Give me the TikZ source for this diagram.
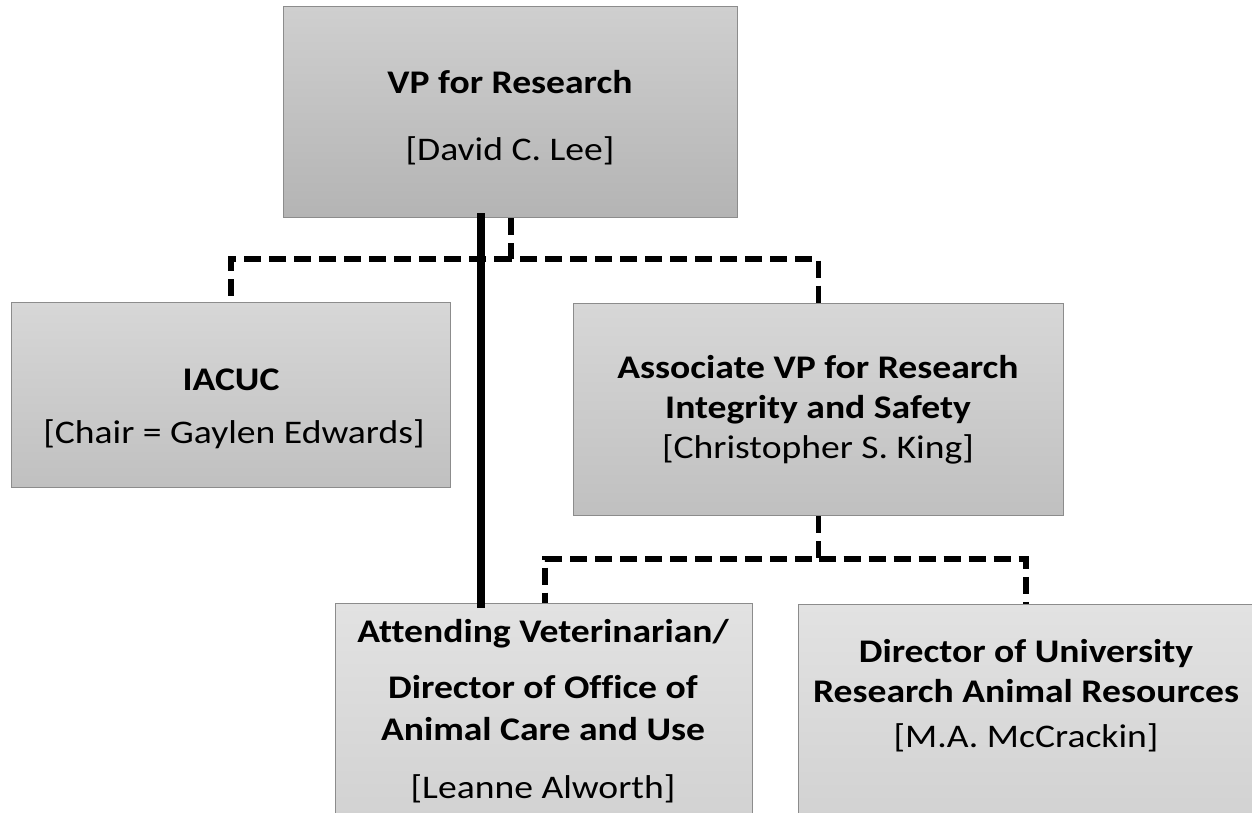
\documentclass[tikz,border=0pt]{standalone}
\usepackage{fontspec}
\setmainfont[Ligatures=NoCommon]{Carlito}
\definecolor{edgegray}{RGB}{140,140,140}
\definecolor{vptop}{RGB}{207,207,207}
\definecolor{vpbot}{RGB}{180,180,180}
\definecolor{midtop}{RGB}{215,215,215}
\definecolor{midbot}{RGB}{192,192,192}
\definecolor{lowtop}{RGB}{226,226,226}
\definecolor{lowbot}{RGB}{208,208,208}
\newcommand\widetxt[1]{\scalebox{1.14}[1]{#1}}
\begin{document}
\begin{tikzpicture}[x=1pt,y=-1pt,
  box/.style={draw=edgegray, line width=1.2pt, anchor=north west, inner sep=0pt, rectangle},
  hd/.style={anchor=base, inner sep=0pt, font=\fontsize{33}{40}\selectfont\bfseries},
  nm/.style={anchor=base, inner sep=0pt, font=\fontsize{33}{40}\selectfont},
  solidline/.style={line width=8pt},
  dashline/.style={line width=5.5pt, dash pattern=on 17pt off 8pt}]
\fill[white] (0,0) rectangle (1252,812);
\useasboundingbox (0,0) rectangle (1252,812);
% boxes
\node[box, minimum width=454pt, minimum height=211pt, top color=vptop, bottom color=vpbot] (vp) at (283,6) {};
\node[box, minimum width=439pt, minimum height=185pt, top color=midtop, bottom color=midbot] (iacuc) at (11,302) {};
\node[box, minimum width=490pt, minimum height=212pt, top color=midtop, bottom color=midbot] (assoc) at (573,303) {};
\node[box, minimum width=417pt, minimum height=240pt, top color=lowtop, bottom color=lowbot] (att) at (335,603) {};
\node[box, minimum width=470pt, minimum height=240pt, top color=lowtop, bottom color=lowbot] (dir) at (798,604) {};
% texts
\node[hd] (t1) at (510,93) {\widetxt{VP for Research}};
\node[nm] (t2) at (510,160) {\widetxt{[David C. Lee]}};
\node[hd] (t3) at (231,390) {\widetxt{IACUC}};
\node[nm] (t4) at (234,443) {\widetxt{[Chair = Gaylen Edwards]}};
\node[hd] (t5) at (818,378) {\widetxt{Associate VP for Research}};
\node[hd] (t6) at (818,418) {\widetxt{Integrity and Safety}};
\node[nm] (t7) at (818,458) {\widetxt{[Christopher S. King]}};
\node[hd] (t8) at (543,642) {\widetxt{Attending Veterinarian/}};
\node[hd] (t9) at (543,698) {\widetxt{Director of Office of}};
\node[hd] (t10) at (543,740) {\widetxt{Animal Care and Use}};
\node[nm] (t11) at (543,798) {\widetxt{[Leanne Alworth]}};
\node[hd] (t12) at (1026,662) {\widetxt{Director of University}};
\node[hd] (t13) at (1026,702) {\widetxt{Research Animal Resources}};
\node[nm] (t14) at (1026,747) {\widetxt{[M.A. McCrackin]}};
% connectors
\draw[solidline] ([xshift=198pt,yshift=5pt]vp.south west) -- ([xshift=146pt,yshift=-5pt]att.north west);
\draw[dashline] ([xshift=228pt]vp.south west) -- ++(0,41) coordinate (j1) -| (assoc.north);
\draw[dashline] (j1) -| (iacuc.north);
\draw[dashline] (assoc.south) -- ++(0,43) coordinate (j2) -| ([xshift=210pt]att.north west);
\draw[dashline] (j2) -| ([xshift=228pt]dir.north west);
\end{tikzpicture}
\end{document}
